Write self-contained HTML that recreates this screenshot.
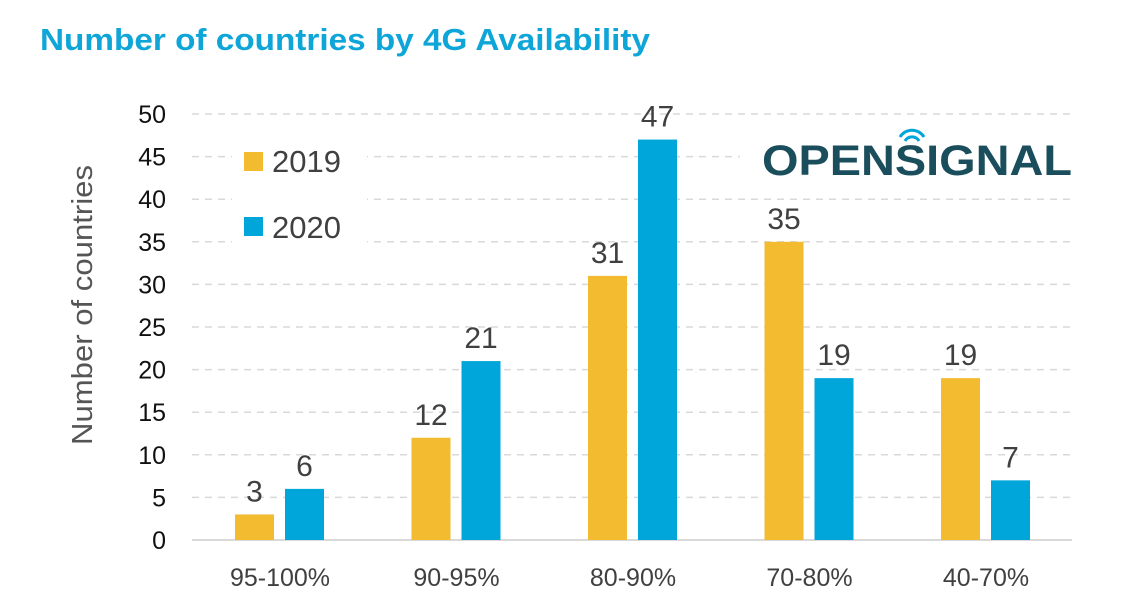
<!DOCTYPE html>
<html><head><meta charset="utf-8"><style>
body{margin:0;background:#fff;width:1124px;height:607px;overflow:hidden;font-family:"Liberation Sans",sans-serif}
</style></head><body>
<svg width="1124" height="607">
<text x="40" y="50" font-size="31" font-weight="bold" fill="#0ea5d8" textLength="610" lengthAdjust="spacingAndGlyphs">Number of countries by 4G Availability</text>
<g id="grid"></g>
<g id="bars"></g>
<rect x="232" y="135" width="135" height="115" fill="#fff"/>
<rect x="740" y="118" width="340" height="66" fill="#fff"/>
<g>
<rect x="244" y="152" width="19" height="19" fill="#f3bb2f"/>
<text x="272" y="172" font-size="31" fill="#404040">2019</text>
<rect x="244" y="217" width="19" height="19" fill="#00a6d9"/>
<text x="272" y="238" font-size="31" fill="#404040">2020</text>
</g>
<g>
<text x="762" y="175" font-size="43" font-weight="bold" fill="#1b4e5c" textLength="310" lengthAdjust="spacingAndGlyphs">OPENSIGNAL</text>
<path d="M900 137 a14 14 0 0 1 24 0 M905 141 a8 8 0 0 1 14 0" stroke="#00a6d9" stroke-width="3" fill="none"/>
</g>
<text transform="translate(92,305) rotate(-90)" text-anchor="middle" font-size="29" fill="#555" textLength="280" lengthAdjust="spacingAndGlyphs">Number of countries</text>
<g id="ylabels"></g>
<g id="xlabels"></g>
</svg>
<script>
const categories=["95-100%","90-95%","80-90%","70-80%","40-70%"];
const values2019=[3,12,31,35,19];
const values2020=[6,21,47,19,7];
const yTicks=[0,5,10,15,20,25,30,35,40,45,50];
const NS="http://www.w3.org/2000/svg";
const y0=540,pxPer=8.52,x0=192,x1=1072;
const yS=v=>y0-v*pxPer;
const xC=i=>280+i*176.5;
function mk(t,a,p){const e=document.createElementNS(NS,t);for(const k in a)e.setAttribute(k,a[k]);document.getElementById(p).appendChild(e);return e;}
yTicks.forEach(v=>{
 const l=mk("line",{x1:x0,x2:x1,y1:yS(v),y2:yS(v),stroke:"#d9d9d9","stroke-width":v===0?2:1.5,"stroke-dasharray":v===0?"":"7,6"},"grid");
 
 
 const t=mk("text",{x:166,y:yS(v)+9,"text-anchor":"end","font-size":25,fill:"#111"},"ylabels");
 t.textContent=v;
 
 
});
categories.forEach((c,i)=>{
 [[values2019[i],"#f3bb2f",-45,"2019"],[values2020[i],"#00a6d9",5,"2020"]].forEach(([v,col,off,s])=>{
  const r=mk("rect",{x:xC(i)+off,y:yS(v),width:39,height:v*pxPer,fill:col},"bars");
  
  
  const t=mk("text",{x:xC(i)+off+19.5,y:yS(v)-13,"text-anchor":"middle","font-size":30,fill:"#404040"},"bars");
  t.textContent=v;
  
  
 });
 const t=mk("text",{x:xC(i),y:586,"text-anchor":"middle","font-size":25,fill:"#404040"},"xlabels");
 t.textContent=c;
 
 
});
</script>
</body></html>
